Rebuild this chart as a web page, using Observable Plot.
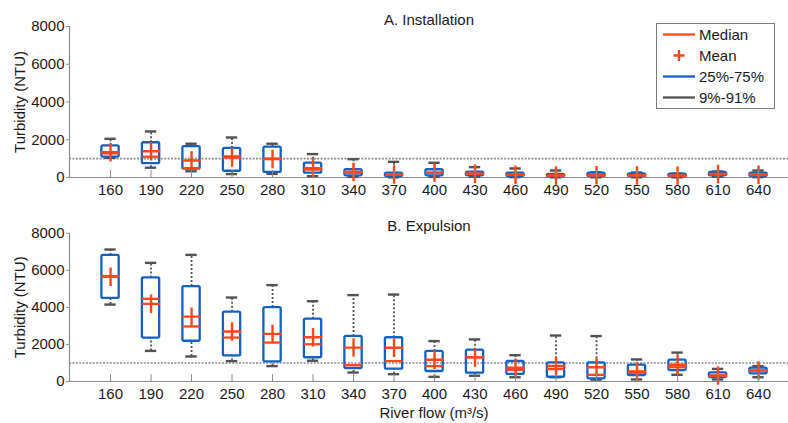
<!DOCTYPE html>
<html>
<head>
<meta charset="utf-8">
<script src="https://cdn.jsdelivr.net/npm/d3@7"></script>
<script src="https://cdn.jsdelivr.net/npm/@observablehq/plot@0.6"></script>
<style>
  html, body { margin: 0; padding: 0; background: #fff; }
  #wrap { position: relative; width: 788px; height: 423px; overflow: hidden; font-family: "Liberation Sans", Arial, Helvetica, sans-serif; }
  #wrap svg.plot-svg { position: absolute; left: 0; }
  #legend { position: absolute; left: 656px; top: 23px; }
</style>
</head>
<body>
<div id="wrap"></div>
<script>
// ---- Data ----
const flows = [160, 190, 220, 250, 280, 310, 340, 370, 400, 430, 460, 490, 520, 550, 580, 610, 640];
const yTicks = [0, 2000, 4000, 6000, 8000];
const threshold = 1000;

// A. Installation
const aLow    = [1040, 520, 330, 180, 190,  70,  30,  10,  30,  40,  20,  10,  10,  10,  10,  40,  20];
const aQ1     = [1080, 730, 440, 330, 270, 230,  90,  50,  90,  90,  50,  30,  50,  50,  50,  90,  50];
const aMedian = [1280,1100, 500,1120,1000, 420, 250, 140, 250, 190, 150, 100, 110, 110, 100, 170, 130];
const aQ3     = [1680,1840,1640,1540,1610, 760, 410, 230, 410, 280, 230, 160, 230, 195, 175, 265, 230];
const aHigh   = [2050,2440,1790,2120,1790,1240, 970, 830, 780, 550, 480, 370, 280, 265, 210, 320, 370];
const aMean   = [1340,1390, 900,1060, 980, 490, 290, 160, 260, 200, 150, 110, 120, 110, 100, 190, 150];

// B. Expulsion
const bLow    = [4150,1650,1350,1100, 830,1120, 485, 395, 250, 310, 230, 230, 100, 110, 360, 110, 230];
const bQ1     = [4480,2340,2170,1380,1060,1280, 700, 665, 540, 450, 380, 230, 145, 320, 590, 215, 415];
const bMedian = [5680,4460,2970,2370,2100,2010, 880,1100, 830,1310, 630, 670, 360, 470, 770, 320, 590];
const bQ3     = [6800,5590,5120,3740,3990,3360,2430,2360,1620,1690,1080,1010,1010, 880,1150, 470, 720];
const bHigh   = [7120,6400,6830,4530,5200,4330,4660,4690,2180,2270,1420,2480,2450,1190,1560, 680, 830];
const bMean   = [5650,4190,3500,2700,2570,2390,1830,1820,1170,1300, 740, 840, 770, 540, 900, 320, 590];

const panelTitles = ["A. Installation", "B. Expulsion"];
const yLabel = "Turbidity (NTU)";
const xLabel = "River flow (m\u00B3/s)";
const legendLabels = ["Median", "Mean", "25%-75%", "9%-91%"];

// ---- Style ----
const FONT = '"Liberation Sans", Arial, Helvetica, sans-serif';
const BLUE = "#1262c4";
const RED = "#ff4719";
const GREY = "#525252";
const AXIS = "#8c8c8c";
const xDomain = [129.6, 662.2];
const halfBox = 6.4;   // in flow units
const halfCap = 4.2;

function rows(low, q1, med, q3, high, mean) {
  return flows.map((f, i) => ({flow: f, low: low[i], q1: q1[i], med: med[i], q3: q3[i], high: high[i], mean: mean[i]}));
}

function panel(data, title, {height, marginTop, marginBottom, xlab}) {
  const marks = [
    Plot.ruleY([threshold], {stroke: "#8a8a8a", strokeWidth: 1.6, strokeDasharray: "2,1.4"}),
    // axis lines
    Plot.ruleY([0], {stroke: AXIS, strokeWidth: 1.2}),
    Plot.ruleX([xDomain[0]], {y1: yTicks[0], y2: yTicks[yTicks.length - 1], stroke: AXIS, strokeWidth: 1.2}),
    // whiskers
    Plot.ruleX(data, {x: "flow", y1: "q3", y2: "high", stroke: GREY, strokeWidth: 1.8, strokeDasharray: "2,2"}),
    Plot.ruleX(data, {x: "flow", y1: "low", y2: "q1", stroke: GREY, strokeWidth: 1.8, strokeDasharray: "2,2"}),
    Plot.ruleY(data, {y: "high", x1: d => d.flow - halfCap, x2: d => d.flow + halfCap, stroke: GREY, strokeWidth: 2.4}),
    Plot.ruleY(data, {y: "low", x1: d => d.flow - halfCap, x2: d => d.flow + halfCap, stroke: GREY, strokeWidth: 2.4}),
    // box
    Plot.rect(data, {x1: d => d.flow - halfBox, x2: d => d.flow + halfBox, y1: "q1", y2: "q3", fill: "none", stroke: BLUE, strokeWidth: 2.3, strokeLinejoin: "round", rx: 1.5}),
    // median
    Plot.ruleY(data, {y: "med", x1: d => d.flow - halfBox, x2: d => d.flow + halfBox, stroke: RED, strokeWidth: 2.3}),
    // mean
    Plot.dot(data, {x: "flow", y: "mean", symbol: "plus", r: 6, stroke: RED, strokeWidth: 2.4}),
    // axes
    Plot.axisY(yTicks, {tickSize: 3, tickPadding: 2, stroke: AXIS, fill: "#1a1a1a", fontSize: 15, label: null, tickFormat: d => String(d)}),
    Plot.axisX(flows, {tickSize: 7, dy: -7, stroke: AXIS, tickFormat: () => "", label: null}),
    Plot.axisX(flows, {tickSize: 0, tickPadding: 7, fill: "#1a1a1a", fontSize: 15, label: null, tickFormat: d => String(d)}),
    // texts
    Plot.text([title], {frameAnchor: "top", lineAnchor: "bottom", dy: -2, fontSize: 15, fill: "#1a1a1a"}),
    Plot.text([yLabel], {frameAnchor: "left", textAnchor: "middle", rotate: -90, dx: -49, fontSize: 15, fill: "#1a1a1a"})
  ];
  if (xlab) marks.push(Plot.text([xlab], {frameAnchor: "bottom", lineAnchor: "bottom", dy: 36, dx: 5, fontSize: 15, fill: "#1a1a1a"}));
  return Plot.plot({
    width: 788, height,
    marginLeft: 69, marginRight: 0, marginTop, marginBottom,
    x: {type: "linear", domain: xDomain, label: null},
    y: {domain: [yTicks[0], yTicks[yTicks.length - 1]], label: null},
    style: {fontFamily: FONT, fontSize: "15px", background: "transparent", overflow: "visible"},
    marks
  });
}

const wrap = document.getElementById("wrap");
const pA = panel(rows(aLow, aQ1, aMedian, aQ3, aHigh, aMean), panelTitles[0], {height: 205, marginTop: 26, marginBottom: 28});
pA.classList.add("plot-svg"); pA.style.top = "0px";
wrap.appendChild(pA);
const pB = panel(rows(bLow, bQ1, bMedian, bQ3, bHigh, bMean), panelTitles[1], {height: 218, marginTop: 27.7, marginBottom: 42, xlab: xLabel});
pB.classList.add("plot-svg"); pB.style.top = "205px";
wrap.appendChild(pB);

// ---- Legend ----
const ns = "http://www.w3.org/2000/svg";
const lg = document.createElementNS(ns, "svg");
lg.setAttribute("id", "legend");
lg.setAttribute("width", 119);
lg.setAttribute("height", 86);
const el = (tag, attrs, text) => {
  const e = document.createElementNS(ns, tag);
  for (const k in attrs) e.setAttribute(k, attrs[k]);
  if (text) e.textContent = text;
  lg.appendChild(e);
  return e;
};
el("rect", {x: 0.5, y: 0.5, width: 118, height: 85, fill: "#fff", stroke: "#7a7a7a", "stroke-width": 1});
const rowY = [11.5, 32.5, 53.5, 74.5];
el("line", {x1: 7, x2: 39, y1: rowY[0], y2: rowY[0], stroke: RED, "stroke-width": 2.3});
el("path", {d: `M${23 - 5.5},${rowY[1]}h11M23,${rowY[1] - 5.5}v11`, stroke: RED, "stroke-width": 2.4, fill: "none"});
el("line", {x1: 7, x2: 39, y1: rowY[2], y2: rowY[2], stroke: BLUE, "stroke-width": 2.3});
el("line", {x1: 7, x2: 39, y1: rowY[3], y2: rowY[3], stroke: GREY, "stroke-width": 2.3});
legendLabels.forEach((t, i) => el("text", {x: 43, y: rowY[i] + 5.3, "font-size": 15, "font-family": FONT, fill: "#1a1a1a"}, t));
wrap.appendChild(lg);
</script>
</body>
</html>
